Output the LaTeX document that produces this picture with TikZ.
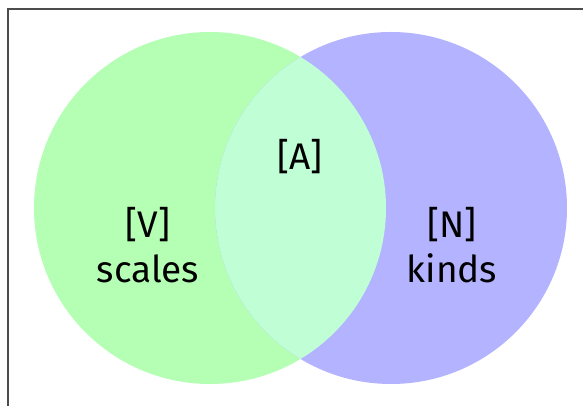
\documentclass[tikz,border=0pt]{standalone}
\usepackage{fontspec}
\setmainfont{Fira Sans}
\usetikzlibrary{positioning}

\begin{document}
\begin{tikzpicture}[x = 1pt, y = 1pt]
\tikzstyle{SetStyle}=[shape = circle,
                      minimum size = 352pt,
                      inner sep = 0pt,
                      draw = none]
\tikzstyle{LabelStyle}=[align = center,
                        font = \fontsize{37}{45}\selectfont]
\definecolor{setV}{RGB}{181,255,181}
\definecolor{setN}{RGB}{179,179,255}
\definecolor{setA}{RGB}{192,255,214}
\useasboundingbox (0,0) rectangle (583,406);
\draw[line width = 1.4pt, black!70] (8,-20) rectangle (620,397);
\node[SetStyle, fill = setV] (V) at (210,198) {};
\node[SetStyle, fill = setN] (N) at (391,198) {};
\begin{scope}
\clip (V.center) circle (176);
\fill[setA] (N.center) circle (176);
\end{scope}
\node[LabelStyle] (lV) at (148,161) {[V]\\scales};
\node[LabelStyle] (lA) at (300,249) {[A]};
\node[LabelStyle] (lN) at (452,161) {[N]\\kinds};
\end{tikzpicture}
\end{document}
